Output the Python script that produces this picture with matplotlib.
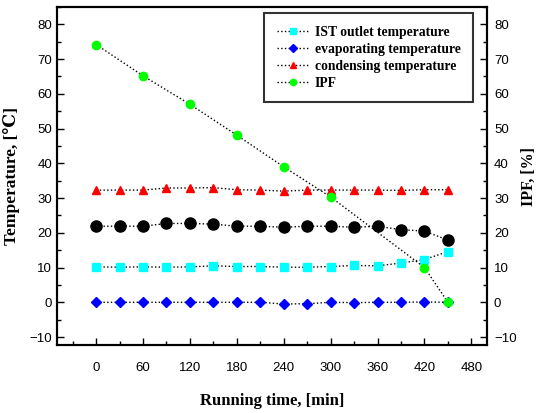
import matplotlib
matplotlib.use("Agg")
import matplotlib.pyplot as plt
from matplotlib.ticker import MultipleLocator

# running time, [min]
t = [0, 30, 60, 90, 120, 150, 180, 210, 240, 270, 300, 330, 360, 390, 420, 450]
ist = [10.2, 10.1, 10.2, 10.1, 10.2, 10.5, 10.3, 10.3, 10.1, 10.1, 10.3, 10.6, 10.5, 11.3, 12.3, 14.6]
evap = [0.0, 0.0, 0.0, 0.0, 0.0, 0.0, 0.0, 0.0, -0.5, -0.4, 0.0, -0.1, 0.0, 0.0, 0.1, 0.0]
cond = [32.3, 32.3, 32.3, 32.9, 32.9, 33.0, 32.4, 32.3, 32.0, 32.3, 32.3, 32.3, 32.3, 32.2, 32.4, 32.4]
black = [21.9, 21.9, 21.9, 22.7, 22.7, 22.5, 21.9, 21.9, 21.6, 21.9, 21.9, 21.6, 21.9, 20.9, 20.5, 17.9]
t_ipf = [0, 60, 120, 180, 240, 300, 420, 450]
ipf = [74.2, 65.2, 57.0, 48.1, 39.0, 30.3, 10.0, 0.0]

serif = ["Liberation Serif", "DejaVu Serif"]
plt.rcParams["font.family"] = ["Liberation Sans", "DejaVu Sans"]
plt.rcParams["font.size"] = 9.5

fig = plt.figure(figsize=(5.4, 4.13), dpi=100)
ax = fig.add_axes([0.1056, 0.1646, 0.7963, 0.8184])

ls = dict(color="black", linestyle=":", linewidth=1.0)
ax.plot(t, black, marker="o", markersize=8, mfc="black", mec="black", **ls)
ax.plot(t, ist, marker="s", markersize=5.5, mfc="#00ffff", mec="#00ffff", label="IST outlet temperature", **ls)
ax.plot(t, evap, marker="D", markersize=5, mfc="#0000ff", mec="#0000ff", label="evaporating temperature", **ls)
ax.plot(t, cond, marker="^", markersize=6, mfc="#ff0000", mec="#ff0000", label="condensing temperature", **ls)
ax.plot(t_ipf, ipf, marker="o", markersize=6, mfc="#00ff00", mec="#00ff00", label="IPF", **ls)

ax.set_xlim(-50, 500)
ax.set_ylim(-12.3, 85)
ax.xaxis.set_major_locator(MultipleLocator(60))
ax.xaxis.set_minor_locator(MultipleLocator(30))
ax.yaxis.set_major_locator(MultipleLocator(10))
ax.yaxis.set_minor_locator(MultipleLocator(5))
ax.tick_params(which="both", direction="in", top=False, right=False)
ax.tick_params(which="major", length=5, width=1)
ax.tick_params(which="minor", length=3, width=1)
ax.tick_params(axis="x", pad=12)
for s in ax.spines.values():
    s.set_linewidth(1.5)

ax2 = ax.twinx()
ax2.set_ylim(-12.3, 85)
ax2.yaxis.set_major_locator(MultipleLocator(10))
ax2.yaxis.set_minor_locator(MultipleLocator(5))
ax2.tick_params(which="both", direction="in", pad=5)
ax2.tick_params(which="major", length=5, width=1)
ax2.tick_params(which="minor", length=3, width=1)
for s in ax2.spines.values():
    s.set_linewidth(1.5)

ax.set_xlabel("Running time, [min]", family=serif, fontweight="bold", fontsize=12, labelpad=14)
ax.set_ylabel("Temperature, [\u2103]", family=serif, fontweight="bold", fontsize=12.5, labelpad=7)
ax2.set_ylabel("IPF, [%]", family=serif, fontweight="bold", fontsize=11.5, labelpad=3)

leg = ax.legend(loc="upper right", bbox_to_anchor=(0.967, 0.981), frameon=True, fancybox=False,
                edgecolor="black", prop={"family": serif, "weight": "bold", "size": 9.8},
                markerscale=0.75, handlelength=2.4, handletextpad=0.4, labelspacing=0.3,
                borderpad=0.9, borderaxespad=0)
leg.get_frame().set_linewidth(1.5)

fig.savefig("out.png", dpi=100)
